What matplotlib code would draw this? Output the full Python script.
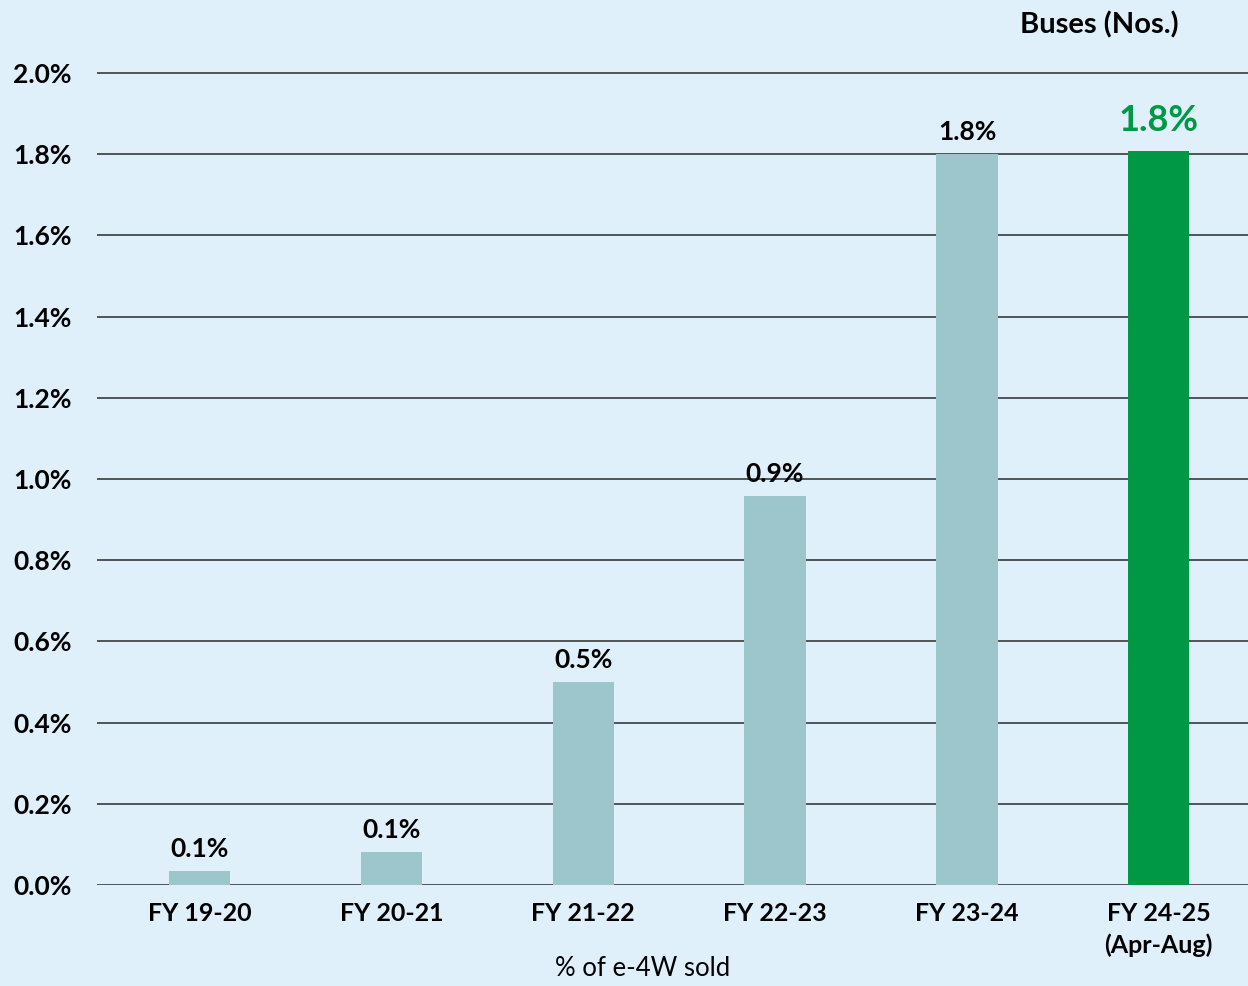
import matplotlib.pyplot as plt
import matplotlib.ticker as mticker

# data
categories = ['FY 19-20', 'FY 20-21', 'FY 21-22', 'FY 22-23', 'FY 23-24', 'FY 24-25\n(Apr-Aug)']
share = [0.034, 0.081, 0.50, 0.958, 1.80, 1.808]
labels = ['0.1%', '0.1%', '0.5%', '0.9%', '1.8%', '1.8%']
yticks = [0.0, 0.2, 0.4, 0.6, 0.8, 1.0, 1.2, 1.4, 1.6, 1.8, 2.0]

bg = '#dff0fb'
bar_col = '#9dc6cc'
hi_col = '#009845'
font = 'Lato'

fig = plt.figure(figsize=(12.48, 9.86), dpi=100, facecolor=bg)
ax = fig.add_axes([0.0777, 0.1024, 0.9223, 0.8441], facecolor=bg)

x = list(range(len(categories)))
colors = [bar_col] * (len(categories) - 1) + [hi_col]
ax.bar(x, share, width=0.32, color=colors, zorder=3)

ax.set_xlim(-0.535, len(categories) - 0.535)
ax.set_ylim(0, 2.05)
ax.set_yticks(yticks)
ax.yaxis.set_major_formatter(mticker.FuncFormatter(lambda v, p: '%.1f%%' % v))
ax.grid(axis='y', color='#3a3a3a', linewidth=1.2, zorder=1)
for s in ax.spines.values():
    s.set_visible(False)
ax.tick_params(axis='both', length=0)
ax.tick_params(axis='y', pad=18)
ax.tick_params(axis='x', pad=12)
ax.set_xticks(x)
ax.set_xticklabels(categories, fontsize=18, fontweight='bold', family=font, linespacing=1.45)
for t in ax.get_yticklabels():
    t.set_fontsize(19)
    t.set_fontweight('bold')
    t.set_family(font)

# value labels above bars
for i, (v, lab) in enumerate(zip(share, labels)):
    if i == len(share) - 1:
        ax.text(i, v + 0.035, lab, ha='center', va='bottom', fontsize=26,
                fontweight='bold', color=hi_col, family=font)
    else:
        ax.text(i, v + 0.025, lab, ha='center', va='bottom', fontsize=19,
                fontweight='bold', color='black', family=font)

fig.text(1099 / 1248, 1 - 25 / 986, 'Buses (Nos.)', ha='center', va='center',
         fontsize=21, fontweight='bold', family=font)
fig.text(643 / 1248, 1 - 969 / 986, '% of e-4W sold', ha='center', va='center',
         fontsize=18.5, family=font)

fig.savefig('out.png', dpi=100, facecolor=bg)
